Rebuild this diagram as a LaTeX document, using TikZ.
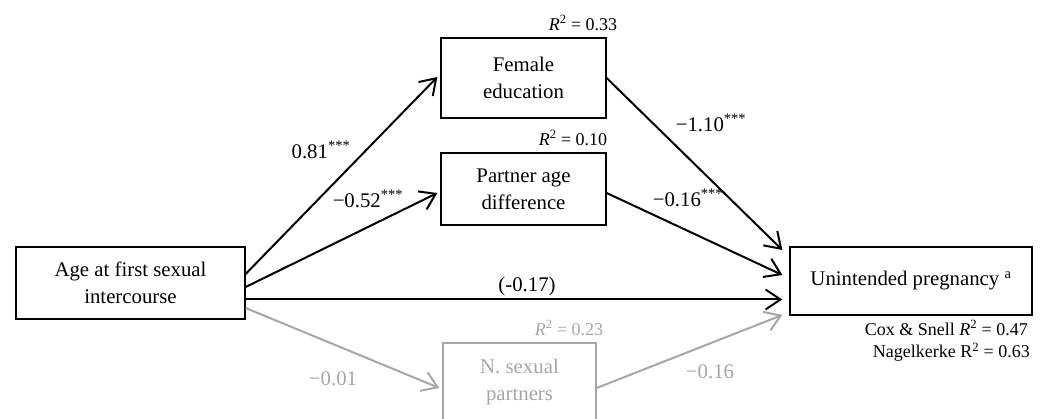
\documentclass[tikz,border=0pt]{standalone}
\usepackage{fontspec}
\setmainfont{Liberation Serif}
\usetikzlibrary{arrows.meta}
\definecolor{pathgray}{HTML}{A6A6A6}

\begin{document}
\begin{tikzpicture}[x=1pt, y=-1pt,
        box/.style={draw, rectangle, line width=1.3pt, align=center, inner sep=0pt, font=\fontsize{20.8}{27}\selectfont},
        coef/.style={inner sep=0pt, font=\fontsize{20.8}{25}\selectfont},
        rsq/.style={inner sep=0pt, font=\fontsize{18}{21}\selectfont},
        arr/.style={-{Straight Barb[length=15pt, width=20pt, line width=2pt]}, line width=2pt}]
      \useasboundingbox (0,0) rectangle (1045,419);
      % Boxes
      \node[box, minimum width=229pt, minimum height=72pt] (age) at (130.5,283) {Age at first sexual\\intercourse};
      \node[box, minimum width=165pt, minimum height=80pt] (fem) at (523.5,78) {Female\\education};
      \node[box, minimum width=165pt, minimum height=72pt] (par) at (523.5,189) {Partner age\\difference};
      \node[box, draw=pathgray, text=pathgray, minimum width=153pt, minimum height=78pt] (nsp) at (519.5,382) {N. sexual\\partners};
      \node[box, minimum width=242pt, minimum height=68pt] (preg) at (911,281) {Unintended pregnancy \textsuperscript{a}};
      
      % Paths
      \draw[arr] ([yshift=9pt]age.east) -- ([xshift=-3pt, yshift=1pt]fem.west);
      \draw[arr] ([yshift=-4pt]age.east) -- ([xshift=-3pt, yshift=-4pt]par.west);
      \draw[arr] ([yshift=-16.5pt]age.east) -- ([xshift=-7pt, yshift=-18.5pt]preg.west);
      \draw[arr, pathgray] ([yshift=-25pt]age.east) -- ([xshift=-3pt, yshift=-6pt]nsp.west);
      \draw[arr] (fem.east) -- ([xshift=-7pt, yshift=31pt]preg.west);
      \draw[arr] ([yshift=-4pt]par.east) -- ([xshift=-7pt, yshift=6pt]preg.west);
      \draw[arr, pathgray] ([yshift=-6pt]nsp.east) -- ([xshift=-7pt, yshift=-34pt]preg.west);
      
      % Coefficients
      \node[coef] (cfem) at (321,150) {0.81\textsuperscript{***}};
      \node[coef] (cpar) at (368,199) {−0.52\textsuperscript{***}};
      \node[coef] (cdir) at (527,286) {(-0.17)};
      \node[coef, text=pathgray] (cnsp) at (333,379) {−0.01};
      \node[coef] (cfemout) at (711,123) {−1.10\textsuperscript{***}};
      \node[coef] (cparout) at (688,198) {−0.16\textsuperscript{***}};
      \node[coef, text=pathgray] (cnspout) at (710,372) {−0.16};
      
      % R squared
      \node[rsq] (rfem) at (583,23) {\textit{R}\textsuperscript{2} = 0.33};
      \node[rsq] (rpar) at (573,138) {\textit{R}\textsuperscript{2} = 0.10};
      \node[rsq, text=pathgray] (rnsp) at (569,328) {\textit{R}\textsuperscript{2} = 0.23};
      \node[rsq, anchor=east] (rcox) at (1028,328) {Cox \& Snell \textit{R}\textsuperscript{2} = 0.47};
      \node[rsq, anchor=east] (rnag) at (1030,352) {Nagelkerke R\textsuperscript{2} = 0.63};
    \end{tikzpicture}
\end{document}
